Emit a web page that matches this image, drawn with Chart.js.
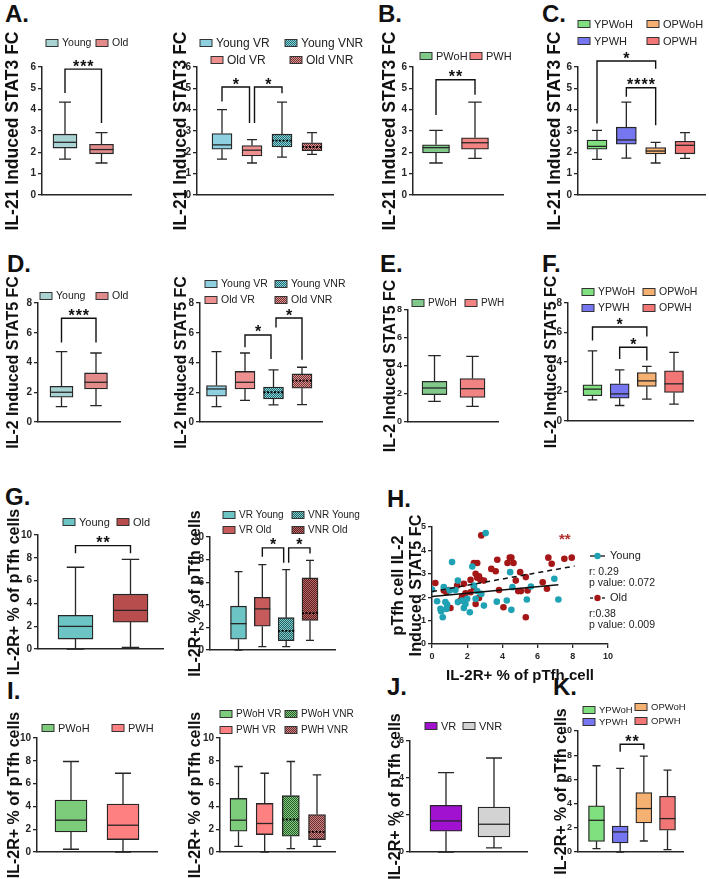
<!DOCTYPE html>
<html>
<head>
<meta charset="utf-8">
<script src="https://cdn.jsdelivr.net/npm/chart.js@4.4.1/dist/chart.umd.min.js"></script>
<style>
  body { margin: 0; background: #fff; width: 709px; height: 879px; position: relative; overflow: hidden; }
  canvas { position: absolute; }
  .tag { position: absolute; font: bold 24px "Liberation Sans", Arial, sans-serif; line-height: 24px; color: #111; }
</style>
</head>
<body>
<div class="tag" style="left:5px;top:2px">A.</div>
<div class="tag" style="left:378px;top:2px">B.</div>
<div class="tag" style="left:542px;top:2px">C.</div>
<div class="tag" style="left:7px;top:252px">D.</div>
<div class="tag" style="left:380px;top:252px">E.</div>
<div class="tag" style="left:542px;top:252px">F.</div>
<div class="tag" style="left:5px;top:485px">G.</div>
<div class="tag" style="left:387px;top:487px">H.</div>
<div class="tag" style="left:7px;top:679px">I.</div>
<div class="tag" style="left:387px;top:675px">J.</div>
<div class="tag" style="left:553px;top:675px">K.</div>
<script>
// group names
const ageLabels = ['Young', 'Old'];
const ageRespLabels = ['Young VR', 'Old VR', 'Young VNR', 'Old VNR'];
const hivLabels = ['PWoH', 'PWH'];
const ageHivLabels = ['YPWoH', 'YPWH', 'OPWoH', 'OPWH'];
const respAgeLabels = ['VR Young', 'VR Old', 'VNR Young', 'VNR Old'];
const hivRespLabels = ['PWoH VR', 'PWH VR', 'PWoH VNR', 'PWH VNR'];
const respLabels = ['VR', 'VNR'];

// box stats: [min, q1, median, q3, max]
const stat3Age = [[1.68, 2.2, 2.47, 2.85, 4.35], [1.5, 1.93, 2.13, 2.38, 2.92]];
const stat3AgeResp = [[1.68, 2.15, 2.35, 2.88, 4.0], [1.5, 1.83, 2.1, 2.32, 2.6], [1.78, 2.25, 2.55, 2.85, 4.35], [1.9, 2.08, 2.25, 2.45, 2.92]];
const stat3Hiv = [[1.5, 1.97, 2.22, 2.35, 3.03], [1.72, 2.15, 2.45, 2.68, 4.35]];
const stat3AgeHiv = [[1.67, 2.15, 2.28, 2.58, 3.03], [1.73, 2.38, 2.58, 3.18, 4.35], [1.5, 1.92, 2.06, 2.22, 2.47], [1.72, 1.93, 2.33, 2.52, 2.92]];
const stat5Age = [[1.03, 1.67, 2.0, 2.4, 4.73], [1.1, 2.22, 2.67, 3.3, 4.64]];
const stat5AgeResp = [[1.03, 1.73, 2.22, 2.45, 4.73], [1.45, 2.22, 2.67, 3.4, 4.64], [1.15, 1.55, 2.0, 2.35, 3.5], [1.17, 2.27, 2.78, 3.23, 3.68]];
const stat5Hiv = [[1.48, 1.95, 2.43, 2.9, 4.74], [1.12, 1.76, 2.38, 3.1, 4.69]];
const stat5AgeHiv = [[1.43, 1.71, 2.16, 2.45, 4.76], [1.05, 1.55, 1.84, 2.52, 3.47], [1.48, 2.34, 2.72, 3.29, 3.7], [1.14, 1.93, 2.52, 3.4, 4.65]];
const il2rAge = [[0, 0.87, 1.98, 2.95, 7.17], [0.15, 2.36, 3.38, 4.81, 7.87]];
const il2rRespAge = [[0, 0.96, 2.33, 3.88, 6.94], [0.29, 2.1, 3.64, 4.66, 7.55], [0.29, 0.82, 1.69, 2.86, 7.12], [0.85, 2.62, 3.26, 6.38, 7.94]];
const il2rHiv = [[0.24, 1.76, 2.79, 4.56, 7.94], [0, 1.09, 2.35, 4.21, 6.91]];
const il2rHivResp = [[0.5, 1.82, 2.79, 4.7, 7.5], [0, 1.53, 2.5, 4.26, 6.91], [0.29, 1.38, 2.85, 4.94, 7.94], [0.5, 1.09, 1.76, 3.29, 6.76]];
const il2rResp = [[0, 1.12, 1.68, 2.52, 4.29], [0.22, 0.81, 1.5, 2.43, 5.08]];
const il2rAgeHiv = [[0.28, 0.88, 2.62, 3.81, 7.13], [0, 0.75, 1.66, 2.15, 6.91], [0.91, 2.4, 3.59, 4.92, 7.93], [0.19, 1.8, 2.76, 4.61, 6.77]];

// significance: [from, to, bar top, left leg end, right leg end, stars]
const stat3AgeSig = [[0, 1, 5.9, 4.78, 3.37, '***']];
const stat3AgeRespSig = [[0, 1, 5.06, 4.38, 3.37, '*'], [1, 2, 5.06, 3.37, 4.77, '*']];
const stat3HivSig = [[0, 1, 5.4, 3.75, 4.7, '**']];
const stat3AgeHivSig = [[0, 2, 6.28, 3.35, 5.92, '*'], [1, 2, 5.03, 4.6, 3.27, '****']];
const stat5AgeSig = [[0, 1, 6.97, 5.35, 5.35, '***']];
const stat5AgeRespSig = [[1, 2, 5.85, 5.02, 4.24, '*'], [2, 3, 6.99, 6.36, 4.19, '*']];
const stat5AgeHivSig = [[0, 2, 6.37, 5.46, 5.73, '*'], [1, 2, 5.0, 4.2, 4.1, '*']];
const il2rAgeSig = [[0, 1, 9.07, 8.4, 8.4, '**']];
const il2rRespAgeSig = [[1, 2, 9.04, 8.25, 7.73, '*'], [2, 3, 9.04, 7.73, 8.55, '*']];
const il2rAgeHivSig = [[1, 2, 8.9, 8.29, 8.5, '**']];

// H: IL-2R+ % (x) vs IL-2 induced STAT5 FC (y)
const youngX = [0, 0.29, 0.48, 0.52, 0.61, 0.67, 0.76, 0.82, 0.86, 1.0, 1.14, 1.33, 1.47, 1.47, 1.71, 1.81, 1.9, 2.0, 2.15, 2.29, 2.38, 2.48, 2.57, 2.8, 2.95, 3.05, 3.68, 4.25, 4.44, 4.51, 4.57, 5.39, 5.62, 6.95, 7.18];
const youngY = [2.33, 1.83, 1.5, 1.4, 1.14, 2.43, 1.79, 1.5, 1.69, 2.29, 3.5, 2.31, 2.71, 1.79, 1.86, 1.54, 1.71, 1.93, 1.36, 3.31, 2.5, 1.93, 2.26, 2.14, 1.64, 4.74, 1.81, 1.86, 3.07, 1.46, 2.43, 1.9, 2.46, 2.79, 1.9];
const oldX = [0.19, 0.67, 0.82, 0.95, 1.05, 1.43, 1.62, 1.71, 1.81, 1.9, 2.19, 2.19, 2.38, 2.38, 2.48, 2.48, 2.57, 2.57, 2.67, 2.67, 2.76, 2.8, 2.95, 3.37, 3.62, 3.71, 3.81, 4.06, 4.29, 4.42, 4.51, 4.63, 4.76, 4.9, 5.01, 5.05, 5.33, 5.33, 5.43, 6.29, 6.53, 6.61, 6.8, 7.52, 7.94];
const oldY = [2.61, 2.29, 2.21, 2.31, 1.54, 2.5, 1.86, 2.03, 2.57, 2.17, 2.74, 2.21, 3.46, 2.43, 3.0, 1.71, 3.46, 2.83, 2.89, 1.97, 2.74, 4.64, 2.71, 3.21, 3.11, 3.6, 2.31, 1.57, 3.46, 3.69, 3.69, 3.46, 2.71, 2.26, 3.07, 2.26, 2.86, 1.14, 2.29, 2.64, 2.36, 3.69, 3.43, 3.64, 3.69];
const youngFitX = [0, 7.18];
const youngFitY = [2.03, 2.53];
const oldFitX = [0, 8.1];
const oldFitY = [2.24, 3.33];
const youngStats = ['r: 0.29', 'p value: 0.072'];
const oldStats = ['r:0.38', 'p value: 0.009'];

const FONT = '"Liberation Sans", Arial, Helvetica, sans-serif';
Chart.defaults.font.family = FONT;
const INK = '#262626';

// axis titles use a narrow bold face when it is installed
const probe = document.createElement('canvas').getContext('2d');
probe.font = 'bold 20px monospace';
const monoW = probe.measureText('IL-21 Induced STAT3 FC').width;
probe.font = 'bold 20px "Liberation Sans Narrow", monospace';
const NARROW = probe.measureText('IL-21 Induced STAT3 FC').width !== monoW;
const TFONT = NARROW ? '"Liberation Sans Narrow", ' + FONT : FONT;
const TSCALE = NARROW ? 1 : 0.82;

function mesh(dark, light) {
  const c = document.createElement('canvas');
  c.width = 2; c.height = 2;
  const g = c.getContext('2d');
  g.fillStyle = dark; g.fillRect(0, 0, 2, 2);
  g.fillStyle = light; g.fillRect(0, 0, 1, 1); g.fillRect(1, 1, 1, 1);
  return g.createPattern(c, 'repeat');
}

const ageColors = ['#a9d3d3', '#e38b8b'];
const ageRespColors = ['#8ed0e0', '#ee9090', mesh('#1f6f76', '#8fd0d6'), mesh('#7a2f2f', '#d99898')];
const hivColors = ['#80c98a', '#f28383'];
const ageHivColors = ['#80e080', '#7676f0', '#f5b172', '#f27676'];
const il2rAgeColors = ['#6cc4c4', '#b84d4d'];
const respAgeColors = ['#6cc4c4', '#c75a5a', mesh('#1d6566', '#86c8c8'), mesh('#5e1e1e', '#b86a6a')];
const il2rHivColors = ['#7ccc7c', '#ff8080'];
const hivRespColors = ['#7ccc7c', '#ff8080', mesh('#255f25', '#86c886'), mesh('#6e2a2a', '#c98a8a')];
const respColors = ['#a012d0', '#d3d3d3'];

function makeCanvas(l, t, w, h) {
  const c = document.createElement('canvas');
  c.width = w; c.height = h;
  c.style.left = l + 'px'; c.style.top = t + 'px';
  c.style.width = w + 'px'; c.style.height = h + 'px';
  document.body.appendChild(c);
  return c;
}

const panelPlugin = {
  id: 'panel',
  afterDatasetsDraw(chart, args, o) {
    if (!o.stats) return;
    const ctx = chart.ctx, ys = chart.scales.y, meta = chart.getDatasetMeta(0);
    ctx.save();
    ctx.strokeStyle = INK; ctx.lineWidth = 1.3;
    o.stats.forEach((s, i) => {
      const el = meta.data[i], x = el.x, w = el.width;
      const [mn, q1, md, q3, mx] = s.map(v => ys.getPixelForValue(v));
      ctx.beginPath();
      ctx.moveTo(x, q3); ctx.lineTo(x, mx);
      ctx.moveTo(x - w * 0.25, mx); ctx.lineTo(x + w * 0.25, mx);
      ctx.moveTo(x, q1); ctx.lineTo(x, mn);
      ctx.moveTo(x - w * 0.25, mn); ctx.lineTo(x + w * 0.25, mn);
      ctx.stroke();
      ctx.save();
      if (o.dotted && o.dotted[i]) { ctx.setLineDash([2, 1.5]); ctx.strokeStyle = '#000'; ctx.lineWidth = 1.8; }
      ctx.beginPath(); ctx.moveTo(x - w / 2, md); ctx.lineTo(x + w / 2, md); ctx.stroke();
      ctx.restore();
    });
    ctx.restore();
  },
  afterDraw(chart, args, o) {
    const ctx = chart.ctx, ys = chart.scales.y;
    ctx.save();
    if (o.brackets) {
      const meta = chart.getDatasetMeta(0);
      ctx.strokeStyle = '#111'; ctx.lineWidth = 1.4;
      ctx.fillStyle = '#111'; ctx.font = 'bold 16px ' + FONT;
      ctx.textAlign = 'center'; ctx.textBaseline = 'alphabetic';
      ctx.letterSpacing = '1px';
      o.brackets.forEach(b => {
        const [i, j, top, le, re, txt] = b;
        const shareL = o.brackets.some(q => q !== b && q[1] === i);
        const shareR = o.brackets.some(q => q !== b && q[0] === j);
        const xl = meta.data[i].x + (shareL ? 2.5 : 0);
        const xr = meta.data[j].x - (shareR ? 2.5 : 0);
        const yt = ys.getPixelForValue(top);
        ctx.beginPath();
        ctx.moveTo(xl, ys.getPixelForValue(le)); ctx.lineTo(xl, yt);
        ctx.lineTo(xr, yt); ctx.lineTo(xr, ys.getPixelForValue(re));
        ctx.stroke();
        ctx.fillText(txt, (xl + xr) / 2 + 0.5, yt + 2.5);
      });
      ctx.letterSpacing = '0px';
    }
    if (o.legend) {
      const ds = chart.data.datasets[0];
      ctx.font = o.legend.size + 'px ' + FONT;
      ctx.textAlign = 'left'; ctx.textBaseline = 'middle';
      o.legend.items.forEach(([i, sx, cy]) => {
        const x = sx - o.ox, y = cy - o.oy;
        ctx.fillStyle = ds.backgroundColor[i];
        ctx.fillRect(x, y - 3.5, 12, 7);
        ctx.strokeStyle = '#333'; ctx.lineWidth = 1;
        ctx.strokeRect(x, y - 3.5, 12, 7);
        ctx.fillStyle = '#222';
        ctx.fillText(chart.data.labels[i], x + 16, y + 0.5);
      });
    }
    if (o.keys) {
      o.keys.forEach(k => {
        const y = k.y - o.oy;
        ctx.strokeStyle = '#222'; ctx.lineWidth = 1.4;
        ctx.setLineDash(k.dash || []);
        ctx.beginPath(); ctx.moveTo(k.x1 - o.ox, y); ctx.lineTo(k.x2 - o.ox, y); ctx.stroke();
        ctx.setLineDash([]);
        ctx.fillStyle = k.color;
        ctx.beginPath(); ctx.arc((k.x1 + k.x2) / 2 - o.ox, y, 3.2, 0, Math.PI * 2); ctx.fill();
      });
    }
    if (o.notes) {
      ctx.textAlign = 'left'; ctx.textBaseline = 'middle';
      o.notes.forEach(n => {
        ctx.font = n.font; ctx.fillStyle = n.color;
        ctx.fillText(n.text, n.x - o.ox, n.y - o.oy);
      });
    }
    ctx.restore();
  }
};
Chart.register(panelPlugin);

function axisY(max, step, title, tsize, width, tickSize) {
  return {
    min: 0, max: max,
    ticks: { stepSize: step, color: INK, padding: 2, font: { size: tickSize || 10, weight: 'bold' } },
    grid: { drawOnChartArea: false, tickLength: 4, color: INK, lineWidth: 1.3 },
    border: { color: INK, width: 1.5 },
    title: { display: true, text: title, color: '#111', padding: 0, font: { family: TFONT, size: tsize, weight: 'bold', lineHeight: 1.2 } },
    afterFit: sc => { sc.width = width; }
  };
}

function boxPanel(p) {
  const [l, t, r, b] = p.area;
  const tsize = p.titleSize * TSCALE;
  const left = Math.round(p.titleX - tsize * 0.6);
  const top = t - 75;
  const right = r + 48;
  const bottom = b + 45;
  const cv = makeCanvas(left, top, right - left, bottom - top);
  const n = p.labels.length;
  const s = (p.centers[1] - p.centers[0]) / (n - 1);
  new Chart(cv, {
    type: 'bar',
    data: {
      labels: p.labels,
      datasets: [{
        data: p.stats.map((v, i) => ({ x: i, y: [v[1], v[3]] })),
        backgroundColor: p.colors,
        borderColor: INK, borderWidth: 1.3, borderSkipped: false,
        barThickness: p.bar
      }]
    },
    options: {
      responsive: false, animation: false, events: [],
      layout: { padding: { top: t - top, right: right - r, left: 0, bottom: 0 } },
      plugins: {
        legend: { display: false }, tooltip: { enabled: false },
        panel: {
          ox: left, oy: top, stats: p.stats, dotted: p.colors.map(c => typeof c !== 'string'),
          brackets: p.sig, legend: { size: p.legendSize, items: p.legend }
        }
      },
      scales: {
        x: {
          type: 'linear', offset: false,
          min: -(p.centers[0] - l) / s, max: (n - 1) + (r - p.centers[1]) / s,
          ticks: { display: false }, grid: { display: false, offset: false },
          border: { color: INK, width: 1.5 },
          afterFit: sc => { sc.height = bottom - b; }
        },
        y: axisY(p.yMax, p.step, p.title, tsize, l - left, p.tickSize)
      }
    }
  });
}

const T3 = 'IL-21 Induced STAT3 FC';
const T5 = 'IL-2 Induced STAT5 FC';
const TR = 'IL-2R+ % of pTfh cells';

boxPanel({ labels: ageLabels, stats: stat3Age, colors: ageColors, sig: stat3AgeSig,
  area: [42, 67, 131, 195], centers: [65, 101.5], bar: 24, yMax: 6, step: 1, title: T3, titleSize: 21.4, titleX: 14,
  legendSize: 10.5, legend: [[0, 46, 43], [1, 96, 43]] });
boxPanel({ labels: ageRespLabels, stats: stat3AgeResp, colors: ageRespColors, sig: stat3AgeRespSig,
  area: [197, 67, 333, 195], centers: [222, 312], bar: 20, yMax: 6, step: 1, title: T3, titleSize: 21.4, titleX: 182,
  legendSize: 12, legend: [[0, 200, 43], [2, 285, 43], [1, 211, 60], [3, 290, 60]] });
boxPanel({ labels: hivLabels, stats: stat3Hiv, colors: hivColors, sig: stat3HivSig,
  area: [413, 67, 503, 195], centers: [436, 475], bar: 27, yMax: 6, step: 1, title: T3, titleSize: 21.4, titleX: 391,
  legendSize: 11, legend: [[0, 420, 56], [1, 470, 56]] });
boxPanel({ labels: ageHivLabels, stats: stat3AgeHiv, colors: ageHivColors, sig: stat3AgeHivSig,
  area: [578, 67, 705, 195], centers: [597, 685], bar: 20, yMax: 6, step: 1, title: T3, titleSize: 21.4, titleX: 556,
  legendSize: 11, legend: [[0, 578, 24], [2, 647, 24], [1, 578, 41], [3, 647, 41]] });

boxPanel({ labels: ageLabels, stats: stat5Age, colors: ageColors, sig: stat5AgeSig,
  area: [38, 303, 120, 422], centers: [61.5, 96], bar: 23, yMax: 8, step: 1, title: T5, titleSize: 19.5, titleX: 13.5,
  legendSize: 10.5, legend: [[0, 40, 296], [1, 96, 296]] });
boxPanel({ labels: ageRespLabels, stats: stat5AgeResp, colors: ageRespColors, sig: stat5AgeRespSig,
  area: [200, 303, 322, 422], centers: [216.5, 302], bar: 20, yMax: 8, step: 1, title: T5, titleSize: 19.5, titleX: 182,
  legendSize: 10.5, legend: [[0, 205, 284], [2, 275, 284], [1, 205, 300], [3, 275, 300]] });
boxPanel({ labels: hivLabels, stats: stat5Hiv, colors: hivColors, sig: [],
  area: [408, 310, 498, 422], centers: [434.5, 472.5], bar: 25, yMax: 8, step: 2, title: T5, titleSize: 19.5, titleX: 391,
  tickSize: 9, legendSize: 10, legend: [[0, 412, 303], [1, 465, 303]] });
boxPanel({ labels: ageHivLabels, stats: stat5AgeHiv, colors: ageHivColors, sig: stat5AgeHivSig,
  area: [568, 303, 693, 421], centers: [592.5, 674], bar: 19, yMax: 8, step: 2, title: T5, titleSize: 19.5, titleX: 552,
  legendSize: 10.5, legend: [[0, 582, 292], [2, 643, 292], [1, 582, 308], [3, 643, 308]] });

boxPanel({ labels: ageLabels, stats: il2rAge, colors: il2rAgeColors, sig: il2rAgeSig,
  area: [38, 535, 163, 649], centers: [75.5, 130.5], bar: 35, yMax: 10, step: 2, title: TR, titleSize: 19.5, titleX: 15,
  legendSize: 11, legend: [[0, 63, 522], [1, 117, 522]] });
boxPanel({ labels: respAgeLabels, stats: il2rRespAge, colors: respAgeColors, sig: il2rRespAgeSig,
  area: [210, 537, 335, 650], centers: [238.5, 310], bar: 16, yMax: 10, step: 2, title: TR, titleSize: 19.5, titleX: 196,
  legendSize: 10, legend: [[0, 223, 515], [2, 292, 515], [1, 223, 530], [3, 292, 530]] });

boxPanel({ labels: hivLabels, stats: il2rHiv, colors: il2rHivColors, sig: [],
  area: [37, 738, 157, 852], centers: [71, 123], bar: 32, yMax: 10, step: 2, title: TR, titleSize: 19.5, titleX: 15,
  legendSize: 11, legend: [[0, 42, 728], [1, 112, 728]] });
boxPanel({ labels: hivRespLabels, stats: il2rHivResp, colors: hivRespColors, sig: [],
  area: [220, 738, 335, 852], centers: [238.5, 317], bar: 17, yMax: 10, step: 2, title: TR, titleSize: 19.5, titleX: 196,
  legendSize: 10, legend: [[0, 220, 714], [2, 285, 714], [1, 220, 730], [3, 285, 730]] });
boxPanel({ labels: respLabels, stats: il2rResp, colors: respColors, sig: [],
  area: [410, 741, 527, 852], centers: [446, 494], bar: 32, yMax: 6, step: 2, title: TR, titleSize: 19.5, titleX: 396,
  tickSize: 9, legendSize: 11, legend: [[0, 425, 726], [1, 463, 726]] });
boxPanel({ labels: ageHivLabels, stats: il2rAgeHiv, colors: ageHivColors, sig: il2rAgeHivSig,
  area: [578, 731, 683, 852], centers: [596.5, 667.5], bar: 16, yMax: 10, step: 2, title: TR, titleSize: 19.5, titleX: 562,
  tickSize: 9, legendSize: 9.5, legend: [[0, 583, 710], [2, 635, 707], [1, 583, 722], [3, 635, 721]] });

// H scatter
(function () {
  const area = [432, 527, 608, 644];
  const tsize = 19.8 * TSCALE;
  const lh = 18.5;
  const left = Math.round(398 - lh / 2);
  const top = 497, right = 709, bottom = area[3] + 40;
  const cv = makeCanvas(left, top, right - left, bottom - top);
  const pts = (xs, ys) => xs.map((x, i) => ({ x: x, y: ys[i] }));
  new Chart(cv, {
    type: 'scatter',
    data: {
      datasets: [
        { label: 'Young fit', data: pts(youngFitX, youngFitY), showLine: true, borderColor: '#111', borderWidth: 1.5, pointRadius: 0 },
        { label: 'Old fit', data: pts(oldFitX, oldFitY), showLine: true, borderColor: '#111', borderWidth: 1.5, borderDash: [5, 4], pointRadius: 0 },
        { label: 'Young', data: pts(youngX, youngY), backgroundColor: '#1fa2b4', borderWidth: 0, pointRadius: 3.3 },
        { label: 'Old', data: pts(oldX, oldY), backgroundColor: '#a51717', borderWidth: 0, pointRadius: 3.3 }
      ]
    },
    options: {
      responsive: false, animation: false, events: [],
      layout: { padding: { top: area[1] - top, right: right - area[2], left: 0, bottom: 0 } },
      plugins: {
        legend: { display: false }, tooltip: { enabled: false },
        panel: {
          ox: left, oy: top,
          keys: [
            { x1: 590, x2: 605, y: 556, color: '#1fa2b4' },
            { x1: 590, x2: 605, y: 598, color: '#a51717', dash: [3, 3] }
          ],
          notes: [
            { text: 'Young', x: 610, y: 556, font: '11px ' + FONT, color: '#222' },
            { text: youngStats[0], x: 589, y: 572, font: '10.5px ' + FONT, color: '#222' },
            { text: youngStats[1], x: 589, y: 583, font: '10.5px ' + FONT, color: '#222' },
            { text: 'Old', x: 610, y: 598, font: '11px ' + FONT, color: '#222' },
            { text: oldStats[0], x: 589, y: 614, font: '10.5px ' + FONT, color: '#222' },
            { text: oldStats[1], x: 589, y: 625, font: '10.5px ' + FONT, color: '#222' },
            { text: '**', x: 559, y: 540, font: 'bold 15px ' + FONT, color: '#b03030' }
          ]
        }
      },
      scales: {
        x: {
          type: 'linear', min: 0, max: 10,
          ticks: { stepSize: 2, color: INK, padding: 3, font: { size: 9, weight: 'bold' } },
          grid: { drawOnChartArea: false, tickLength: 4, color: INK, lineWidth: 1.3 },
          border: { color: INK, width: 1.5 },
          title: { display: true, text: 'IL-2R+ % of pTfh cell', color: '#111', padding: 0, font: { size: 15, weight: 'bold', lineHeight: 1.15 } },
          afterFit: sc => { sc.height = bottom - area[3]; }
        },
        y: {
          min: 0, max: 5,
          ticks: { stepSize: 1, color: INK, padding: 2, font: { size: 9, weight: 'bold' } },
          grid: { drawOnChartArea: false, tickLength: 4, color: INK, lineWidth: 1.3 },
          border: { color: INK, width: 1.5 },
          title: { display: true, text: ['pTfh cell IL-2', 'Induced STAT5 FC'], color: '#111', padding: 0, font: { family: TFONT, size: tsize, weight: 'bold', lineHeight: lh / tsize } },
          afterFit: sc => { sc.width = area[0] - left; }
        }
      }
    }
  });
})();
</script>
</body>
</html>
